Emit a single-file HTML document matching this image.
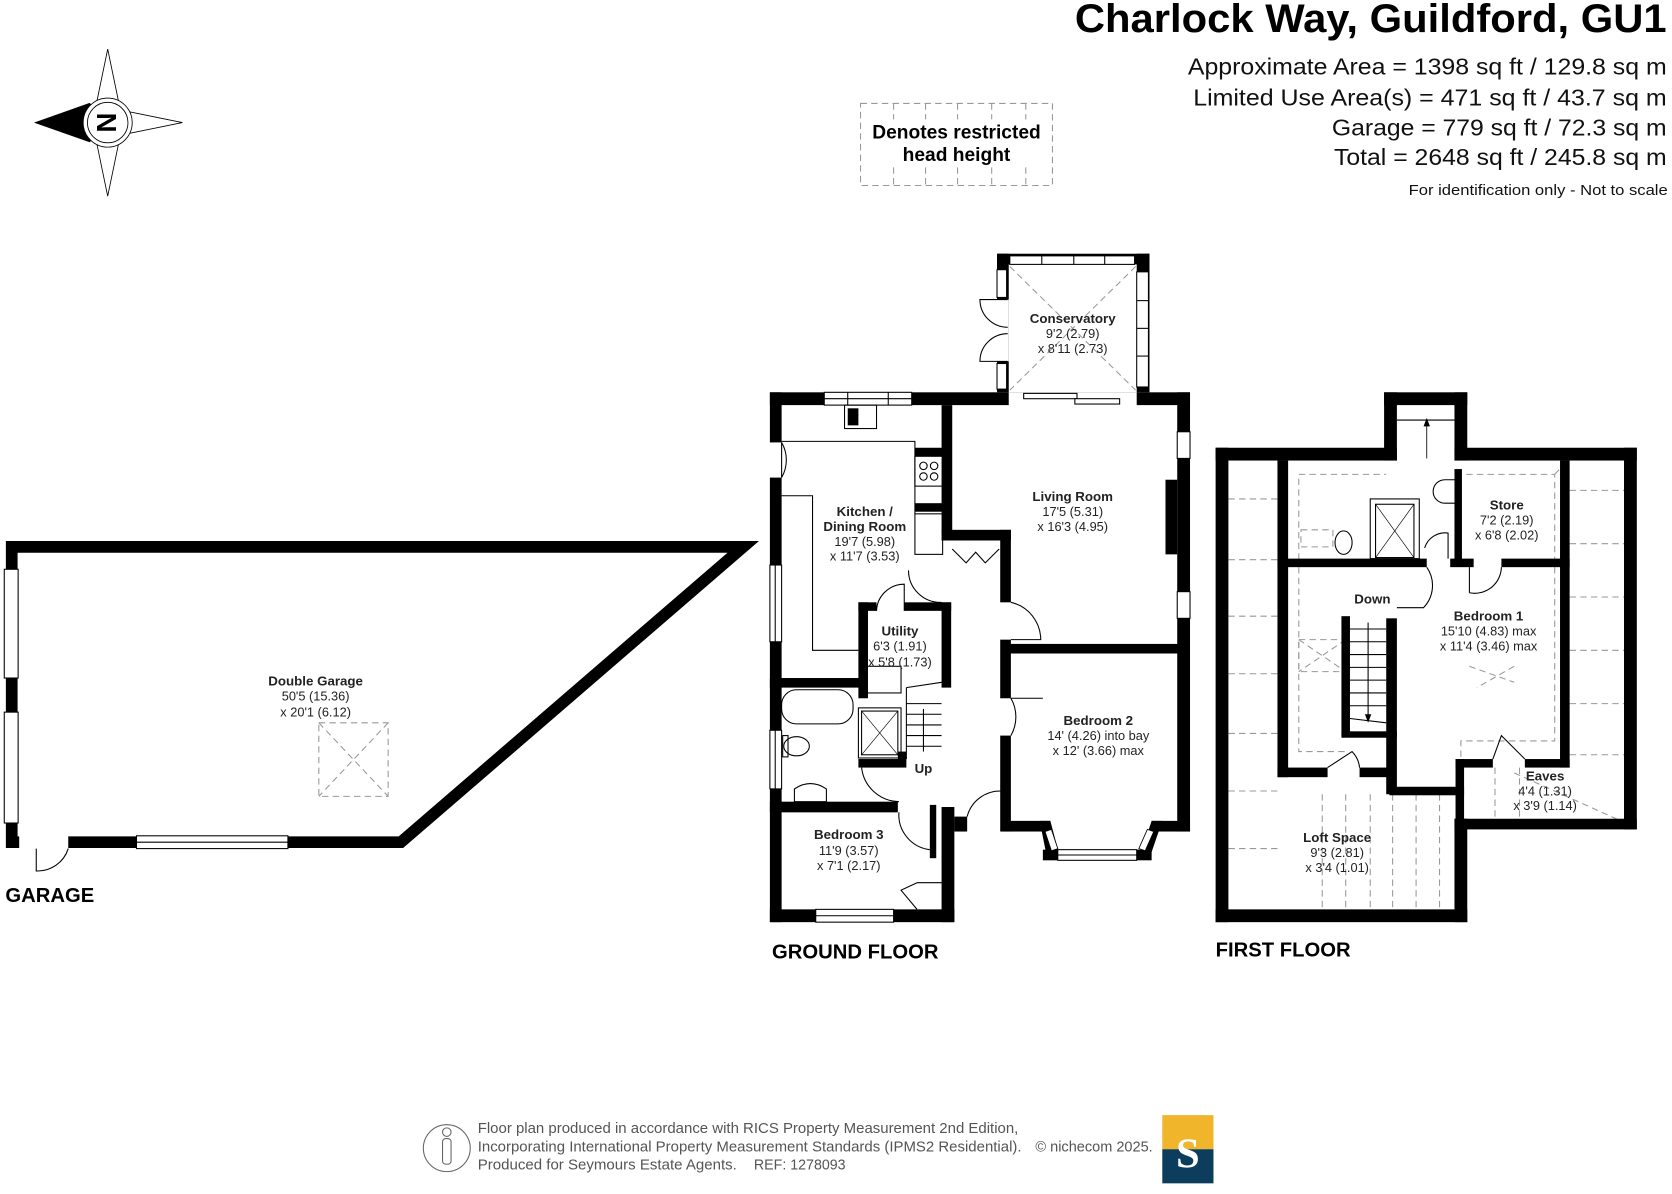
<!DOCTYPE html>
<html><head><meta charset="utf-8"><style>
html,body{margin:0;padding:0;background:#fff;}
svg{display:block;}
text{font-family:"Liberation Sans",Arial,sans-serif;}
.rl{font-size:12.5px;font-weight:bold;text-anchor:middle;fill:#222;}
.dm{font-size:12px;text-anchor:middle;fill:#222;}
.w{fill:#000;}
.win{fill:#fff;stroke:#000;stroke-width:1;}
.d{fill:none;stroke:#000;stroke-width:1;}
.ds{fill:none;stroke:#999;stroke-width:1;stroke-dasharray:6 4;}
</style></head><body>
<svg width="1672" height="1194" viewBox="0 0 1568 1120" preserveAspectRatio="none">
<rect x="0" y="0" width="1568" height="1120" fill="#fff"/>
<!-- Header -->
<text x="1008" y="30" textLength="555" lengthAdjust="spacingAndGlyphs" font-size="37" font-weight="bold" fill="#000">Charlock Way, Guildford, GU1</text>
<text x="1114" y="70" textLength="449" lengthAdjust="spacingAndGlyphs" font-size="22" fill="#111">Approximate Area = 1398 sq ft / 129.8 sq m</text>
<text x="1119" y="99" textLength="444" lengthAdjust="spacingAndGlyphs" font-size="22" fill="#111">Limited Use Area(s) = 471 sq ft / 43.7 sq m</text>
<text x="1249" y="127" textLength="314" lengthAdjust="spacingAndGlyphs" font-size="22" fill="#111">Garage = 779 sq ft / 72.3 sq m</text>
<text x="1251" y="155" textLength="312" lengthAdjust="spacingAndGlyphs" font-size="22" fill="#111">Total = 2648 sq ft / 245.8 sq m</text>
<text x="1321" y="183" textLength="243" lengthAdjust="spacingAndGlyphs" font-size="14" fill="#111">For identification only - Not to scale</text>
<!-- Restricted box -->
<rect x="807" y="97" width="180" height="77" class="ds"/>
<g class="ds"><line x1="838" y1="97" x2="838" y2="174"/><line x1="868" y1="97" x2="868" y2="174"/><line x1="898" y1="97" x2="898" y2="174"/><line x1="930" y1="97" x2="930" y2="174"/><line x1="962" y1="97" x2="962" y2="174"/></g>
<rect x="810" y="112" width="174" height="44" fill="#fff"/>
<text x="897" y="130" text-anchor="middle" font-size="18" font-weight="bold">Denotes restricted</text>
<text x="897" y="151" text-anchor="middle" font-size="18" font-weight="bold">head height</text>
<!-- Compass -->
<g stroke="#000" stroke-width="0.8" fill="#fff">
<polygon points="101,46 113,104 101,115 89,104"/>
<polygon points="101,184 113,126 101,115 89,126"/>
<polygon points="171,115 112,103 101,115 112,127"/>
<polygon points="33,115 84,97 101,115 84,133" fill="#000"/>
<circle cx="101" cy="115" r="23"/>
<circle cx="101" cy="115" r="19"/>
</g>
<text x="101" y="125" text-anchor="middle" font-size="26" font-weight="bold" transform="rotate(90 101 115)">N</text>
<!-- Garage -->
<polygon points="11,513 697,513 376,790 11,790" fill="none" stroke="#000" stroke-width="11" stroke-linejoin="miter"/>
<rect x="4" y="534" width="13" height="102" class="win"/>
<rect x="4" y="668" width="13" height="104" class="win"/>
<rect x="18" y="784" width="46" height="12" fill="#fff"/>
<path d="M34,796 L34,817 A30,30 0 0 0 64,796" class="d"/>
<rect x="128" y="784" width="142" height="12" class="win"/>
<line x1="128" y1="790" x2="270" y2="790" stroke="#000" stroke-width="1"/>
<rect x="299" y="678" width="65" height="69" class="ds"/>
<line x1="299" y1="678" x2="364" y2="747" class="ds"/><line x1="364" y1="678" x2="299" y2="747" class="ds"/>
<text x="296" y="643" class="rl">Double Garage</text>
<text x="296" y="657" class="dm">50'5 (15.36)</text>
<text x="296" y="672" class="dm">x 20'1 (6.12)</text>
<text x="5" y="846" font-size="19" font-weight="bold">GARAGE</text>

<!-- Conservatory -->
<rect x="935" y="238" width="143" height="10" class="w"/>
<rect x="947" y="240" width="117" height="8" class="win"/>
<g stroke="#000" stroke-width="1"><line x1="977" y1="240" x2="977" y2="248"/><line x1="1007" y1="240" x2="1007" y2="248"/><line x1="1036" y1="240" x2="1036" y2="248"/></g>
<rect x="935" y="238" width="11" height="130" class="w"/>
<rect x="935" y="253" width="9" height="26" class="win"/>
<rect x="935" y="341" width="9" height="24" class="win"/>
<rect x="919" y="281" width="27" height="58" fill="#fff"/>
<path d="M945,281 L919,281 A26,26 0 0 0 945,307 M945,339 L919,339 A26,26 0 0 1 945,313" class="d"/>
<rect x="1066" y="238" width="12" height="130" class="w"/>
<rect x="1066" y="255" width="11" height="108" class="win"/>
<g stroke="#000" stroke-width="1"><line x1="1066" y1="282" x2="1077" y2="282"/><line x1="1066" y1="308" x2="1077" y2="308"/><line x1="1066" y1="334" x2="1077" y2="334"/></g>
<line x1="947" y1="250" x2="1065" y2="366" class="ds"/><line x1="1065" y1="250" x2="947" y2="366" class="ds"/>
<text x="1006" y="303" class="rl">Conservatory</text>
<text x="1006" y="317" class="dm">9'2 (2.79)</text>
<text x="1006" y="331" class="dm">x 8'11 (2.73)</text>

<!-- Ground floor walls -->
<g class="w">
<rect x="722" y="368" width="394" height="12"/>
<rect x="722" y="368" width="11" height="497"/>
<rect x="1104" y="368" width="12" height="412"/>
<rect x="722" y="853" width="173" height="12"/>
<rect x="883" y="757" width="12" height="108"/>
<rect x="883" y="380" width="10" height="120"/>
<rect x="883" y="497" width="65" height="10"/>
<rect x="938" y="497" width="10" height="68"/>
<rect x="938" y="600" width="10" height="55"/>
<rect x="938" y="690" width="10" height="90"/>
<rect x="947" y="604" width="160" height="9"/>
<rect x="940" y="770" width="45" height="10"/>
<polygon points="975,770 985,770 993,800 982,805"/>
<rect x="978" y="797" width="14" height="10"/>
<rect x="1066" y="797" width="14" height="10"/>
<polygon points="1070,800 1080,770 1090,770 1078,805"/>
<rect x="1080" y="770" width="36" height="10"/>
<rect x="1093" y="450" width="11" height="70"/>
<rect x="883" y="565" width="9" height="80"/>
<rect x="805" y="565" width="9" height="90"/>
<rect x="805" y="565" width="17" height="8"/>
<rect x="848" y="565" width="44" height="8"/>
<rect x="722" y="636" width="90" height="9"/>
<rect x="805" y="712" width="38" height="8"/>
<rect x="842" y="705" width="8" height="15"/>
<rect x="722" y="752" width="120" height="10"/>
<rect x="872" y="755" width="6" height="50"/>
<rect x="895" y="766" width="12" height="14"/>
<rect x="858" y="420" width="26" height="8"/>
<rect x="858" y="472" width="26" height="8"/>
</g>
<!-- bay windows -->
<rect x="992" y="797" width="74" height="10" class="win"/><line x1="992" y1="802" x2="1066" y2="802" stroke="#000"/>
<polygon points="980,780 986,778 992,796 986,798" fill="#fff" stroke="#000" stroke-width="0.8"/>
<polygon points="1076,778 1082,780 1074,798 1068,796" fill="#fff" stroke="#000" stroke-width="0.8"/>
<!-- GF openings / windows -->
<rect x="773" y="368" width="82" height="12" class="win"/>
<line x1="773" y1="374" x2="855" y2="374" stroke="#000"/>
<line x1="795" y1="368" x2="795" y2="380" stroke="#000"/><line x1="833" y1="368" x2="833" y2="380" stroke="#000"/>
<rect x="946" y="368" width="120" height="13" fill="#fff"/>
<rect x="960" y="369" width="50" height="5" class="win"/><rect x="1008" y="374" width="42" height="5" class="win"/>
<rect x="1104" y="405" width="12" height="25" class="win"/><rect x="1104" y="555" width="12" height="25" class="win"/>
<rect x="722" y="530" width="11" height="72" class="win"/><line x1="727" y1="530" x2="727" y2="602" stroke="#000"/>
<rect x="722" y="685" width="11" height="55" class="win"/><line x1="727" y1="685" x2="727" y2="740" stroke="#000"/>
<rect x="721" y="415" width="13" height="33" fill="#fff"/>
<path d="M733,415 L733,448 M733,415 A33,33 0 0 1 733,448" class="d"/>
<rect x="765" y="853" width="73" height="12" class="win"/><line x1="765" y1="859" x2="838" y2="859" stroke="#000"/>
<!-- kitchen counters -->
<path d="M733,414 L858,414 L858,482 M733,465 L762,465 L762,610 L805,610" class="d"/>
<rect x="858" y="428" width="26" height="28" class="d"/>
<circle cx="866" cy="437" r="3.5" class="d"/><circle cx="876" cy="437" r="3.5" class="d"/><circle cx="866" cy="447" r="3.5" class="d"/><circle cx="876" cy="447" r="3.5" class="d"/>
<rect x="858" y="482" width="26" height="38" class="d"/>
<rect x="792" y="380" width="30" height="22" class="d"/><rect x="795" y="383" width="10" height="16" fill="#000"/>
<!-- hall doors -->
<path d="M852,535 A30,30 0 0 0 883,565" class="d"/>
<path d="M822,573 A26,26 0 0 1 848,548 L848,573" class="d"/>
<path d="M948,565 A36,36 0 0 1 976,600 L948,600" class="d"/>
<path d="M893,515 L906,528 L915,518 L924,528 L937,515" class="d"/>
<path d="M948,655 A35,35 0 0 1 948,690" class="d"/><line x1="948" y1="655" x2="978" y2="655" stroke="#000"/>
<path d="M907,766 A32,32 0 0 1 939,742 L939,770" class="d"/>
<path d="M808,720 A36,36 0 0 0 843,752" class="d"/>
<path d="M843,762 A33,33 0 0 0 872,797" class="d"/>
<path d="M860,828 L845,835 L860,853 M860,828 L883,828" class="d" stroke-width="1.5"/>
<rect x="813" y="625" width="32" height="25" class="d"/>
<!-- stairs -->
<g stroke="#000" stroke-width="1"><line x1="850" y1="645" x2="883" y2="640"/><line x1="850" y1="660" x2="883" y2="660"/><line x1="850" y1="670" x2="883" y2="670"/><line x1="850" y1="680" x2="883" y2="680"/><line x1="850" y1="690" x2="883" y2="690"/><line x1="850" y1="700" x2="883" y2="700"/><line x1="850" y1="645" x2="850" y2="712"/><line x1="866" y1="665" x2="866" y2="705"/></g>
<!-- bathroom -->
<rect x="733" y="647" width="67" height="32" rx="14" class="d"/>
<rect x="805" y="664" width="40" height="47" class="d"/><rect x="808" y="667" width="34" height="41" class="d"/>
<line x1="808" y1="667" x2="842" y2="708" stroke="#000" stroke-width="0.6"/><line x1="842" y1="667" x2="808" y2="708" stroke="#000" stroke-width="0.6"/>
<ellipse cx="747" cy="700" rx="12" ry="9" class="d"/><rect x="734" y="690" width="5" height="20" class="d"/>
<path d="M745,752 L745,740 Q760,730 775,740 L775,752 Z" class="d"/>
<text x="811" y="484" class="rl">Kitchen /</text>
<text x="811" y="498" class="rl">Dining Room</text>
<text x="811" y="512" class="dm">19'7 (5.98)</text>
<text x="811" y="526" class="dm">x 11'7 (3.53)</text>
<text x="1006" y="470" class="rl">Living Room</text>
<text x="1006" y="484" class="dm">17'5 (5.31)</text>
<text x="1006" y="498" class="dm">x 16'3 (4.95)</text>
<text x="844" y="596" class="rl">Utility</text>
<text x="844" y="610" class="dm">6'3 (1.91)</text>
<text x="844" y="625" class="dm">x 5'8 (1.73)</text>
<text x="1030" y="680" class="rl" font-size="14">Bedroom 2</text>
<text x="1030" y="694" class="dm">14' (4.26) into bay</text>
<text x="1030" y="708" class="dm">x 12' (3.66) max</text>
<text x="866" y="725" class="rl" font-size="13">Up</text>
<text x="796" y="787" class="rl" font-size="14">Bedroom 3</text>
<text x="796" y="802" class="dm">11'9 (3.57)</text>
<text x="796" y="816" class="dm">x 7'1 (2.17)</text>
<text x="724" y="899" font-size="19" font-weight="bold">GROUND FLOOR</text>

<!-- First floor -->
<g class="ds">
<line x1="1152" y1="468" x2="1198" y2="468"/><line x1="1152" y1="525" x2="1198" y2="525"/><line x1="1152" y1="578" x2="1198" y2="578"/><line x1="1152" y1="632" x2="1198" y2="632"/><line x1="1152" y1="688" x2="1198" y2="688"/><line x1="1152" y1="742" x2="1198" y2="742"/><line x1="1152" y1="796" x2="1198" y2="796"/>
<line x1="1472" y1="460" x2="1523" y2="460"/><line x1="1472" y1="510" x2="1523" y2="510"/><line x1="1472" y1="560" x2="1523" y2="560"/><line x1="1472" y1="610" x2="1523" y2="610"/><line x1="1472" y1="660" x2="1523" y2="660"/><line x1="1472" y1="708" x2="1523" y2="708"/>
<path d="M1218,525 L1218,445 L1300,445 M1365,445 L1458,445 L1458,525 M1458,532 L1458,695 L1370,695 L1370,712"/>
<path d="M1218,532 L1218,705 L1262,705 M1305,705 L1305,720"/>
<line x1="1458" y1="445" x2="1470" y2="432"/>
<line x1="1420" y1="725" x2="1520" y2="770"/>
<line x1="1240" y1="745" x2="1240" y2="853"/><line x1="1262" y1="745" x2="1262" y2="853"/><line x1="1285" y1="745" x2="1285" y2="853"/><line x1="1306" y1="745" x2="1306" y2="853"/><line x1="1328" y1="745" x2="1328" y2="853"/><line x1="1350" y1="745" x2="1350" y2="853"/>
<line x1="1402" y1="720" x2="1402" y2="768"/><line x1="1425" y1="720" x2="1425" y2="768"/>
<rect x="1218" y="600" width="44" height="30"/><line x1="1218" y1="600" x2="1262" y2="630"/><line x1="1262" y1="600" x2="1218" y2="630"/>
<rect x="1220" y="497" width="30" height="16"/>
<line x1="1378" y1="625" x2="1420" y2="640"/><line x1="1420" y1="625" x2="1385" y2="645"/>
</g>
<g class="w">
<rect x="1140" y="420" width="170" height="12"/>
<rect x="1364" y="420" width="171" height="12"/>
<rect x="1298" y="368" width="78" height="12"/>
<rect x="1298" y="368" width="12" height="64"/>
<rect x="1364" y="368" width="12" height="64"/>
<rect x="1140" y="420" width="12" height="445"/>
<rect x="1140" y="853" width="236" height="12"/>
<rect x="1364" y="768" width="12" height="97"/>
<rect x="1364" y="768" width="171" height="10"/>
<rect x="1523" y="420" width="12" height="358"/>
<rect x="1198" y="432" width="10" height="297"/>
<rect x="1198" y="720" width="47" height="9"/>
<rect x="1275" y="720" width="33" height="9"/>
<rect x="1300" y="580" width="10" height="165"/>
<rect x="1303" y="738" width="70" height="8"/>
<rect x="1365" y="712" width="8" height="60"/>
<rect x="1365" y="712" width="35" height="8"/>
<rect x="1430" y="712" width="42" height="8"/>
<rect x="1463" y="432" width="9" height="288"/>
<rect x="1198" y="524" width="140" height="8"/>
<rect x="1360" y="524" width="22" height="8"/>
<rect x="1408" y="524" width="64" height="8"/>
<rect x="1364" y="440" width="7" height="90"/>
<rect x="1258" y="578" width="8" height="112"/>
</g>
<line x1="1310" y1="394" x2="1364" y2="394" stroke="#000" stroke-width="1"/>
<line x1="1338" y1="430" x2="1338" y2="398" stroke="#000" stroke-width="0.8"/><path d="M1335,400 L1338,392 L1341,400Z"/>
<!-- stairs down -->
<g stroke="#000" stroke-width="1"><line x1="1266" y1="590" x2="1300" y2="590"/><line x1="1266" y1="602" x2="1300" y2="602"/><line x1="1266" y1="614" x2="1300" y2="614"/><line x1="1266" y1="626" x2="1300" y2="626"/><line x1="1266" y1="638" x2="1300" y2="638"/><line x1="1266" y1="650" x2="1300" y2="650"/><line x1="1266" y1="662" x2="1300" y2="662"/><line x1="1266" y1="674" x2="1300" y2="678"/><line x1="1283" y1="584" x2="1283" y2="672"/></g>
<path d="M1280,670 L1283,678 L1286,670Z"/>
<rect x="1258" y="686" width="52" height="6" class="w"/>
<!-- FF fixtures -->
<rect x="1285" y="468" width="46" height="56" class="d"/><rect x="1290" y="473" width="36" height="50" class="d"/>
<line x1="1290" y1="473" x2="1326" y2="523" stroke="#000" stroke-width="0.6"/><line x1="1326" y1="473" x2="1290" y2="523" stroke="#000" stroke-width="0.6"/>
<ellipse cx="1260" cy="509" rx="8" ry="11" class="d"/>
<path d="M1365,450 L1355,450 A10,10 0 0 0 1355,472 L1365,472" class="d"/>
<path d="M1338,532 A30,30 0 0 1 1335,570 L1310,570" class="d"/>
<path d="M1336,514 A20,20 0 0 1 1358,500 L1358,524" class="d"/>
<path d="M1378,556 A25,25 0 0 0 1408,532" class="d"/><line x1="1378" y1="532" x2="1378" y2="556" stroke="#000"/>
<path d="M1245,720 L1268,705 A25,25 0 0 1 1275,720" class="d" stroke-width="1.5"/>
<path d="M1400,712 L1408,690 L1430,712" class="d" stroke-width="1.5"/>
<text x="1287" y="566" class="rl" font-size="13">Down</text>
<text x="1396" y="582" class="rl">Bedroom 1</text>
<text x="1396" y="596" class="dm">15'10 (4.83) max</text>
<text x="1396" y="610" class="dm">x 11'4 (3.46) max</text>
<text x="1413" y="478" class="rl">Store</text>
<text x="1413" y="492" class="dm">7'2 (2.19)</text>
<text x="1413" y="506" class="dm">x 6'8 (2.02)</text>
<text x="1449" y="732" class="rl">Eaves</text>
<text x="1449" y="746" class="dm">4'4 (1.31)</text>
<text x="1449" y="760" class="dm">x 3'9 (1.14)</text>
<text x="1254" y="790" class="rl">Loft Space</text>
<text x="1254" y="804" class="dm">9'3 (2.81)</text>
<text x="1254" y="818" class="dm">x 3'4 (1.01)</text>
<text x="1140" y="897" font-size="19" font-weight="bold">FIRST FLOOR</text>

<!-- Footer -->
<circle cx="419" cy="1077" r="22" fill="none" stroke="#666" stroke-width="1"/>
<circle cx="419" cy="1062" r="4" fill="none" stroke="#666"/>
<rect x="415" y="1068" width="8" height="24" rx="3" fill="none" stroke="#666"/>
<text x="448" y="1063" textLength="507" lengthAdjust="spacingAndGlyphs" font-size="13.5" fill="#555">Floor plan produced in accordance with RICS Property Measurement 2nd Edition,</text>
<text x="448" y="1080" textLength="510" lengthAdjust="spacingAndGlyphs" font-size="13.5" fill="#555">Incorporating International Property Measurement Standards (IPMS2 Residential).</text>
<text x="971" y="1080" textLength="110" lengthAdjust="spacingAndGlyphs" font-size="13.5" fill="#555">© nichecom 2025.</text>
<text x="448" y="1097" textLength="243" lengthAdjust="spacingAndGlyphs" font-size="13.5" fill="#555">Produced for Seymours Estate Agents.</text>
<text x="707" y="1097" textLength="86" lengthAdjust="spacingAndGlyphs" font-size="13.5" fill="#555">REF: 1278093</text>
<rect x="1090" y="1046" width="48" height="32" fill="#f0b52a"/>
<rect x="1090" y="1078" width="48" height="32" fill="#0d3d5c"/>
<text x="1114" y="1095" text-anchor="middle" font-size="40" font-weight="bold" fill="#fff" style="font-family:'Liberation Serif',serif">S</text>
</svg>
</body></html>
